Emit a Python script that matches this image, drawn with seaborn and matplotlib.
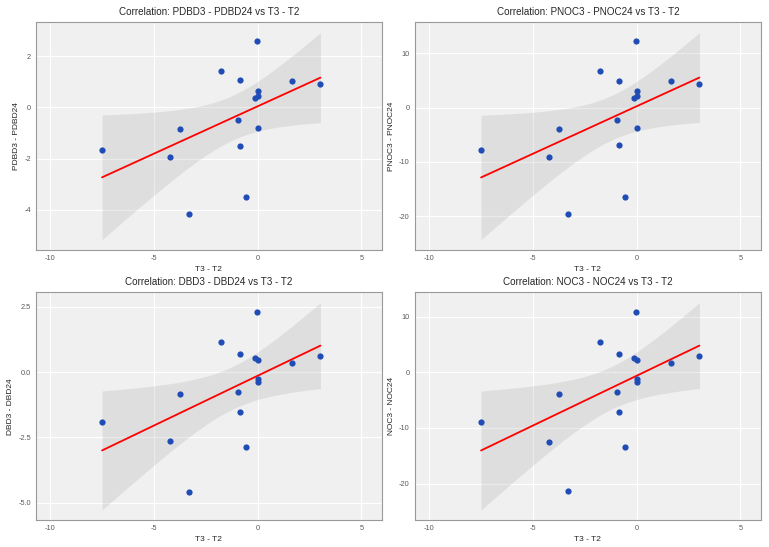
import numpy as np
import matplotlib
matplotlib.use("Agg")
import matplotlib.pyplot as plt
import seaborn as sns
from matplotlib.ticker import FormatStrFormatter

# T3 - T2 difference (shared x for all four panels)
t_diff = [-7.5, -4.24, -3.74, -3.31, -1.78, -0.95, -0.87, -0.83, -0.58,
          -0.11, -0.03, 0.0, 0.02, 0.04, 1.65, 3.03]

pdbd_diff = [-1.66, -1.93, -0.86, -4.19, 1.42, -0.48, -1.49, 1.06, -3.50,
             0.39, 2.62, -0.82, 0.64, 0.44, 1.04, 0.92]
pnoc_diff = [-7.83, -9.05, -4.04, -19.6, 6.67, -2.26, -6.97, 4.95, -16.4,
             1.83, 12.3, -3.85, 3.0, 2.08, 4.89, 4.34]
dbd_diff = [-1.91, -2.65, -0.83, -4.57, 1.17, -0.77, -1.51, 0.71, -2.88,
            0.56, 2.30, -0.26, -0.36, 0.48, 0.36, 0.63]
noc_diff = [-8.98, -12.46, -3.89, -21.4, 5.51, -3.59, -7.07, 3.35, -13.5,
            2.63, 10.8, -1.2, -1.68, 2.28, 1.68, 2.93]

panels = [
    ("PDBD3 - PDBD24", pdbd_diff, [-4, -2, 0, 2], "%d"),
    ("PNOC3 - PNOC24", pnoc_diff, [-20, -10, 0, 10], "%d"),
    ("DBD3 - DBD24", dbd_diff, [-5.0, -2.5, 0.0, 2.5], "%.1f"),
    ("NOC3 - NOC24", noc_diff, [-20, -10, 0, 10], "%d"),
]

x_ticks = [-10, -5, 0, 5]

sns.set_style("white")
plt.rcParams["font.family"] = ["Liberation Sans", "DejaVu Sans"]
plt.rcParams["axes.unicode_minus"] = False

W, H = 769, 547
fig = plt.figure(figsize=(W / 100, H / 100), dpi=100)

# panel boxes in pixels: left, top, right, bottom
boxes = [
    (35.7, 22.3, 382.0, 250.0),
    (414.7, 22.3, 761.0, 250.0),
    (35.7, 292.3, 382.0, 520.3),
    (414.7, 292.3, 761.0, 520.3),
]


def lm_band(x, y, n=80):
    # analytic 95% confidence band like geom_smooth(method="lm")
    x = np.asarray(x)
    y = np.asarray(y)
    b, a = np.polyfit(x, y, 1)
    resid = y - (a + b * x)
    df = len(x) - 2
    s = np.sqrt(np.sum(resid ** 2) / df)
    sxx = np.sum((x - x.mean()) ** 2)
    grid = np.linspace(x.min(), x.max(), n)
    fit = a + b * grid
    se = s * np.sqrt(1 / len(x) + (grid - x.mean()) ** 2 / sxx)
    t = 2.1447866879  # t(0.975, 14)
    return grid, fit - t * se, fit + t * se


for (ylab, yvals, yticks, fmt), (l, t, r, b) in zip(panels, boxes):
    ax = fig.add_axes([l / W, 1 - b / H, (r - l) / W, (b - t) / H])
    ax.set_facecolor("#f0f0f0")
    ax.set_axisbelow(True)
    ax.grid(True, color="white", lw=0.9)

    gx, lo, hi = lm_band(t_diff, yvals)
    ax.fill_between(gx, lo, hi, color="#999999", alpha=0.2, lw=0, zorder=2)
    sns.regplot(x=t_diff, y=yvals, ax=ax, ci=None,
                scatter_kws=dict(color="#1f4db5", s=20, linewidths=0, alpha=1, zorder=4),
                line_kws=dict(color="red", lw=1.3, zorder=3))

    # ggplot-style 5% expansion on y
    ymin = min(lo.min(), min(yvals))
    ymax = max(hi.max(), max(yvals))
    pad = (ymax - ymin) * 0.05
    ax.set_ylim(ymin - pad, ymax + pad)
    ax.set_xlim(-10.7, 6.0)

    ax.set_xticks(x_ticks)
    ax.set_yticks(yticks)
    ax.yaxis.set_major_formatter(FormatStrFormatter(fmt))
    ax.tick_params(length=2, width=0.6, color="#555555", labelsize=5.3,
                   labelcolor="#5a5a5a", pad=1.5)
    for sp in ax.spines.values():
        sp.set_color("#999999")
        sp.set_linewidth(0.8)

    ax.set_title("Correlation: " + ylab + " vs T3 - T2", fontsize=7.1, pad=5)
    ax.set_xlabel("T3 - T2", fontsize=6.0, labelpad=3)
    ax.set_ylabel(ylab, fontsize=6.0, labelpad=3)

fig.savefig("out.png", dpi=100)
